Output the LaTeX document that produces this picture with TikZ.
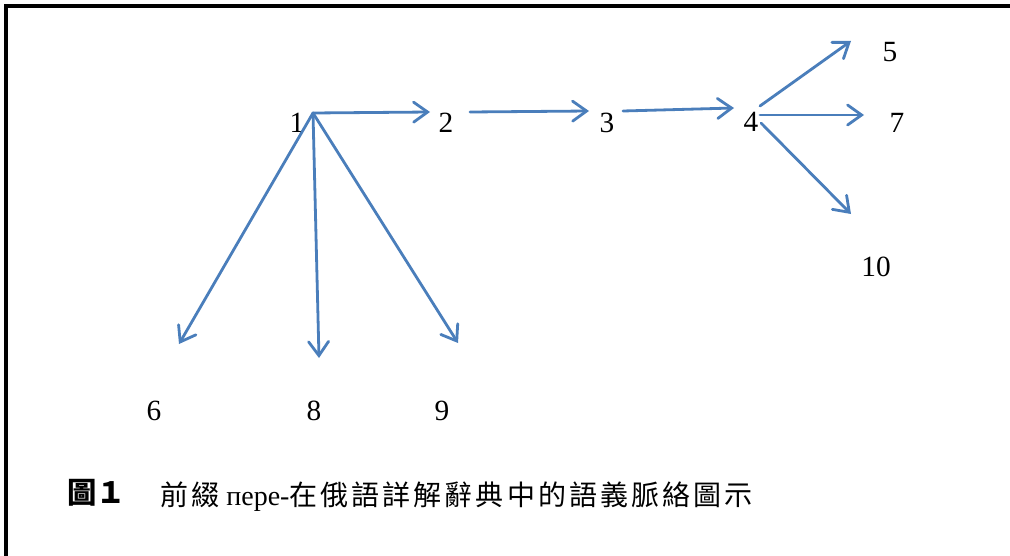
\documentclass[tikz,border=0pt]{standalone}
\usepackage{fontspec}
\setmainfont{Liberation Serif}
\newfontfamily\cjk{Noto Sans CJK TC}
\newfontfamily\cjkwide[LetterSpace=11]{Noto Sans CJK TC}
\usetikzlibrary{arrows.meta}
\definecolor{arrblue}{HTML}{4A7EBB}
\begin{document}
\begin{tikzpicture}[x=0.75pt,y=-0.75pt,
  lab/.style={font=\fontsize{22}{22}\selectfont, inner sep=0pt},
  arr/.style={draw=arrblue, line width=2.1pt, line cap=round,
    -{Straight Barb[length=10.5pt,width=15pt,line cap=round]}},
  frame/.style={draw=black, line width=2.4pt}]
\useasboundingbox (0,0) rectangle (1010,556);
\draw[frame] (6,556) -- (6,6) -- (1010,6);
% labels
\node[lab] (n1) at (297,123) {1};
\node[lab] (n2) at (446,123) {2};
\node[lab] (n3) at (607,123) {3};
\node[lab] (n4) at (751,122) {4};
\node[lab] (n5) at (890,52) {5};
\node[lab] (n7) at (897,123) {7};
\node[lab] (n10) at (876,267) {10};
\node[lab] (n6) at (154,411) {6};
\node[lab] (n8) at (314,411) {8};
\node[lab] (n9) at (442,411) {9};
% arrow endpoints
\coordinate (s1) at (313,113);
\coordinate (t2) at (430,112);
\coordinate (s2) at (470,112);
\coordinate (t3) at (589,111);
\coordinate (s3) at (623,111);
\coordinate (t4) at (734,108);
\coordinate (s4a) at (760,106);
\coordinate (t5) at (851,41);
\coordinate (s4b) at (760,115);
\coordinate (t7) at (864,115);
\coordinate (s4c) at (761,123);
\coordinate (t10) at (851,214);
\coordinate (t6) at (179,344);
\coordinate (t8) at (319,358);
\coordinate (t9) at (458,343);
\draw[arr] (s1) -- (t2);
\draw[arr] (s2) -- (t3);
\draw[arr] (s3) -- (t4);
\draw[arr] (s4a) -- (t5);
\draw[arr] (s4b) -- (t7);
\draw[arr] (s4c) -- (t10);
\draw[arr] (s1) -- (t6);
\draw[arr] (s1) -- (t8);
\draw[arr] (s1) -- (t9);
% caption
\node[inner sep=0pt, anchor=west, font=\cjk\bfseries\fontsize{22}{22}\selectfont] (cap1) at (67,493) {圖１};
\node[inner sep=0pt, anchor=west, font=\fontsize{21}{21}\selectfont] (cap2) at (160,497)
  {{\cjkwide 前綴} пере-{\cjkwide 在俄語詳解辭典中的語義脈絡圖示}};
\end{tikzpicture}
\end{document}
